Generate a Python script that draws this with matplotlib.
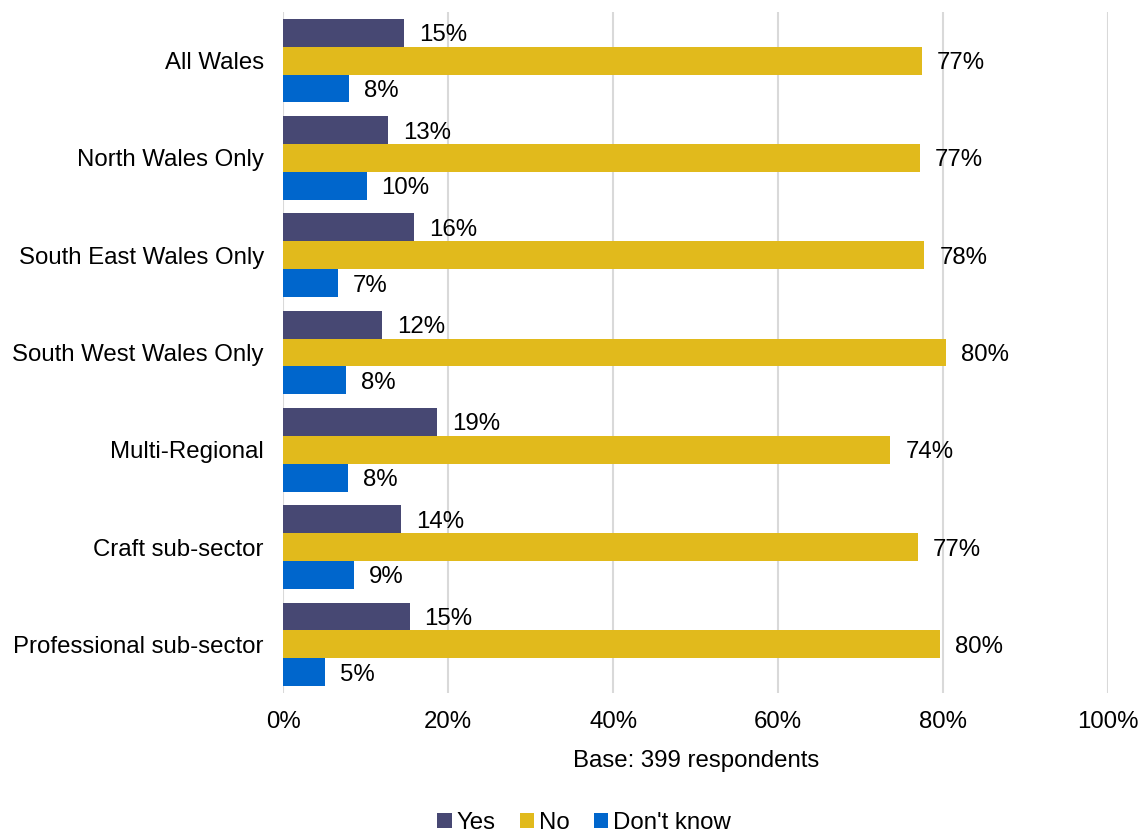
import matplotlib
matplotlib.use("Agg")
import matplotlib.pyplot as plt
import numpy as np
from matplotlib.ticker import FuncFormatter

categories = ["All Wales", "North Wales Only", "South East Wales Only",
              "South West Wales Only", "Multi-Regional", "Craft sub-sector",
              "Professional sub-sector"]
yes = [14.6, 12.7, 15.8, 12.0, 18.6, 14.3, 15.3]
no = [77.4, 77.2, 77.7, 80.3, 73.6, 76.9, 79.6]
dont_know = [8.0, 10.1, 6.6, 7.6, 7.8, 8.6, 5.1]
series_names = ["Yes", "No", "Don't know"]
colors = ["#474873", "#E1BA1C", "#0066CC"]
xticks = [0, 20, 40, 60, 80, 100]

FS = 17.3
plt.rcParams['font.family'] = ['Liberation Sans', 'DejaVu Sans']
plt.rcParams['font.size'] = FS

fig = plt.figure(figsize=(11.46, 8.34), dpi=100)
ax = fig.add_axes([0.2472, 0.1691, 0.9671 - 0.2472, 0.9856 - 0.1691])

y = np.arange(len(categories))
h = 0.286
for k, (vals, name, c) in enumerate(zip([yes, no, dont_know], series_names, colors)):
    pos = y + (k - 1) * h
    bars = ax.barh(pos, vals, height=h, color=c, label=name, zorder=3)
    for b, v in zip(bars, vals):
        ax.annotate(f"{v:.0f}%", xy=(b.get_width(), b.get_y() + b.get_height() / 2),
                    xytext=(15, 0), textcoords='offset pixels',
                    va='center_baseline', ha='left', fontsize=FS, color='#000000')

ax.set_xlim(0, 100)
ax.set_ylim(len(categories) - 0.5, -0.5)
ax.set_xticks(xticks)
ax.xaxis.set_major_formatter(FuncFormatter(lambda v, p: f"{v:.0f}%"))
ax.set_yticks(y)
ax.set_yticklabels(categories)
ax.tick_params(axis='both', length=0)
ax.tick_params(axis='y', pad=14)
ax.tick_params(axis='x', pad=13)
ax.grid(axis='x', color='#D9D9D9', linewidth=1.5, zorder=0)
for s in ax.spines.values():
    s.set_visible(False)
ax.set_xlabel("Base: 399 respondents", labelpad=12)

handles, labels = ax.get_legend_handles_labels()
fig.legend(handles, labels, loc='center', bbox_to_anchor=(584 / 1146, 1 - 823 / 834),
           ncol=3, frameon=False, handlelength=0.6, handleheight=0.6,
           handletextpad=0.2, columnspacing=1.0, borderaxespad=0)

fig.savefig("out.png", dpi=100)
